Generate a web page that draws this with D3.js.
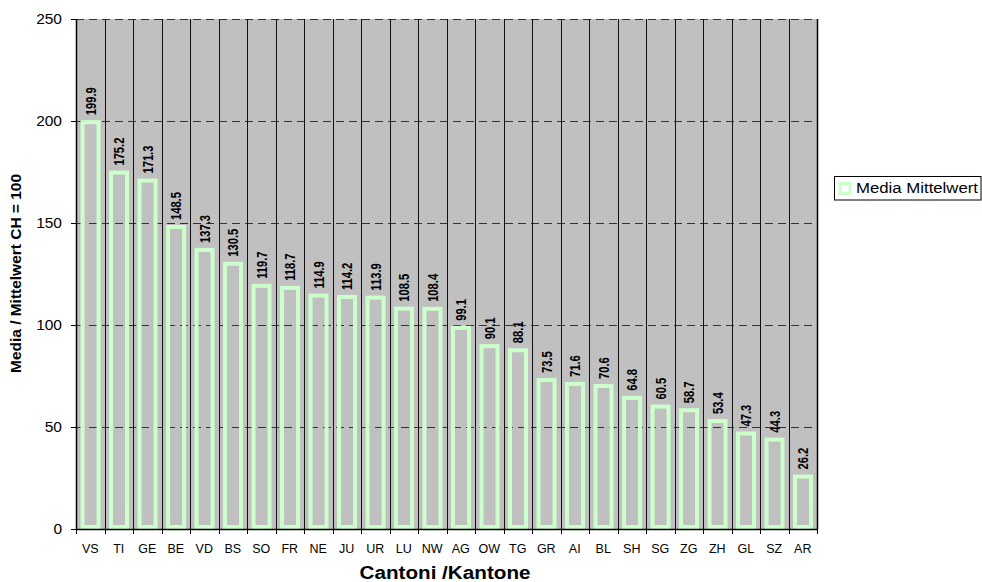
<!DOCTYPE html>
<html><head><meta charset="utf-8">
<script src="https://cdn.jsdelivr.net/npm/d3@7"></script>
<style>body{margin:0;background:#fff;} svg{display:block;font-family:Arial,"Liberation Sans",sans-serif;}</style>
</head><body>
<svg id="c" width="982" height="582"></svg>
<script>
const categories = ["VS","TI","GE","BE","VD","BS","SO","FR","NE","JU","UR","LU","NW","AG","OW","TG","GR","AI","BL","SH","SG","ZG","ZH","GL","SZ","AR"];
const values = [199.9,175.2,171.3,148.5,137.3,130.5,119.7,118.7,114.9,114.2,113.9,108.5,108.4,99.1,90.1,88.1,73.5,71.6,70.6,64.8,60.5,58.7,53.4,47.3,44.3,26.2];
const yTicks = [0,50,100,150,200,250];
const seriesName = "Media Mittelwert";
const yTitle = "Media / Mittelwert CH = 100";
const xTitle = "Cantoni /Kantone";

const FONT = "Arial, 'Liberation Sans', sans-serif";
const svg = d3.select("#c");
const L = 76, R = 817, T = 19, B = 529;
const x = d3.scaleBand().domain(categories).range([L, R]).padding(0);
const y = d3.scaleLinear().domain([0, 250]).range([B, T]);
const barColor = "#ccffcc";

svg.append("rect").attr("x", L).attr("y", T).attr("width", R - L).attr("height", B - T).attr("fill", "#c0c0c0");

// horizontal dashed gridlines
svg.append("g").selectAll("line").data(yTicks.filter(d => d > 0)).join("line")
  .attr("x1", L).attr("x2", R).attr("y1", d => Math.round(y(d)) + 0.5).attr("y2", d => Math.round(y(d)) + 0.5)
  .attr("stroke", "#333").attr("stroke-width", 1).attr("stroke-dasharray", "8,5");

// vertical gridlines at category boundaries
svg.append("g").selectAll("line").data(categories.slice(1)).join("line")
  .attr("x1", d => Math.round(x(d)) + 0.5).attr("x2", d => Math.round(x(d)) + 0.5)
  .attr("y1", T).attr("y2", B).attr("stroke", "#111").attr("stroke-width", 1);

// right border
svg.append("line").attr("x1", R + 0.5).attr("x2", R + 0.5).attr("y1", T).attr("y2", B).attr("stroke", "#000").attr("stroke-width", 1.5);

// bars (outline only, as in the reference)
const bw = 16, sw = 4;
svg.append("g").selectAll("rect").data(values).join("rect")
  .attr("x", (d, i) => x(categories[i]) + x.bandwidth() / 2 - bw / 2 + 0.3)
  .attr("y", d => y(d) + 1)
  .attr("width", bw)
  .attr("height", d => (B - 2) - (y(d) + 1))
  .attr("fill", "none").attr("stroke", barColor).attr("stroke-width", sw);

// value labels (rotated, slightly widened like the reference)
svg.append("g").selectAll("text").data(values).join("text")
  .attr("transform", (d, i) => `translate(${x(categories[i]) + x.bandwidth() / 2 + 5.4},${y(d) - 6}) rotate(-90) scale(1,1.3)`)
  .attr("font-size", 11.2).attr("font-weight", "bold").attr("fill", "#000").attr("font-family", FONT)
  .text(d => d.toFixed(1));

// y axis
const yAxis = svg.append("g").attr("transform", `translate(${L},0)`)
  .call(d3.axisLeft(y).tickValues(yTicks).tickSize(5).tickPadding(9).tickFormat(d3.format("d")));
yAxis.select(".domain").attr("stroke", "#000").attr("stroke-width", 1.5).attr("d", `M0.5,${T}V${B}`);
yAxis.selectAll(".tick line").attr("stroke", "#000");
yAxis.selectAll(".tick text").attr("font-size", 15.5).attr("font-family", FONT).attr("fill", "#000");

// x axis
const xAxis = svg.append("g").attr("transform", `translate(0,${B})`)
  .call(d3.axisBottom(x).tickSize(0));
xAxis.select(".domain").remove();
xAxis.selectAll(".tick text").attr("font-size", 12.5).attr("font-family", FONT).attr("fill", "#000")
  .attr("dy", null).attr("y", 24);
svg.append("line").attr("x1", L).attr("x2", R + 1).attr("y1", B + 0.5).attr("y2", B + 0.5).attr("stroke", "#000").attr("stroke-width", 1.5);
svg.append("g").selectAll("line").data(d3.range(categories.length + 1)).join("line")
  .attr("x1", i => Math.round(L + i * x.bandwidth()) + 0.5)
  .attr("x2", i => Math.round(L + i * x.bandwidth()) + 0.5)
  .attr("y1", B).attr("y2", B + 5).attr("stroke", "#000");

// axis titles
svg.append("text").attr("x", 445).attr("y", 578.5).attr("text-anchor", "middle")
  .attr("font-size", 18).attr("font-weight", "bold").attr("font-family", FONT)
  .attr("textLength", 171).attr("lengthAdjust", "spacingAndGlyphs").text(xTitle);
svg.append("text").attr("transform", `translate(20.5,273.5) rotate(-90)`).attr("text-anchor", "middle")
  .attr("font-size", 14).attr("font-weight", "bold").attr("font-family", FONT)
  .attr("textLength", 199).attr("lengthAdjust", "spacingAndGlyphs").text(yTitle);

// legend
const lg = svg.append("g");
lg.append("rect").attr("x", 834.5).attr("y", 176.5).attr("width", 146.5).attr("height", 23.5).attr("fill", "#fff").attr("stroke", "#000");
lg.append("rect").attr("x", 840).attr("y", 183.5).attr("width", 10).attr("height", 10).attr("fill", "none").attr("stroke", barColor).attr("stroke-width", 3);
lg.append("text").attr("x", 856).attr("y", 193.3).attr("font-size", 14).attr("font-family", FONT)
  .attr("textLength", 122).attr("lengthAdjust", "spacingAndGlyphs").text(seriesName);
</script>
</body></html>
